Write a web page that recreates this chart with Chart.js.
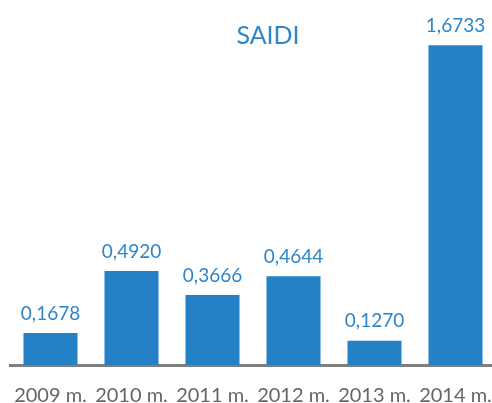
<!DOCTYPE html>
<html><head><meta charset="utf-8">
<script src="https://cdn.jsdelivr.net/npm/chart.js@4/dist/chart.umd.min.js"></script>
<style>
html,body{margin:0;padding:0;background:#fff;overflow:hidden;width:492px;height:403px;}
#wrap{width:498px;height:403px;position:relative;}
</style></head>
<body><div id="wrap"><canvas id="c" width="498" height="403"></canvas></div>
<script>
const categories = ["2009 m.", "2010 m.", "2011 m.", "2012 m.", "2013 m.", "2014 m."];
const saidiValues = [0.1678, 0.4920, 0.3666, 0.4644, 0.1270, 1.6733];
const valueLabels = ["0,1678", "0,4920", "0,3666", "0,4644", "0,1270", "1,6733"];
const chartTitle = "SAIDI";

const BLUE = "#2581C6";
const LABEL_BLUE = "#2E86C8";
const FONT = "Lato, 'Open Sans', sans-serif";

const overlay = {
  id: "overlay",
  afterDatasetsDraw(chart) {
    const ctx = chart.ctx;
    const meta = chart.getDatasetMeta(0);
    ctx.save();
    ctx.fillStyle = LABEL_BLUE;
    ctx.font = "19px " + FONT;
    ctx.textAlign = "center";
    ctx.textBaseline = "bottom";
    meta.data.forEach((bar, i) => {
      ctx.fillText(valueLabels[i], bar.x, bar.y - 10);
    });
    ctx.font = "25px " + FONT;
    ctx.textBaseline = "middle";
    ctx.fillText(chartTitle, 268, 36);
    ctx.restore();
  }
};

new Chart(document.getElementById("c"), {
  type: "bar",
  data: {
    labels: categories,
    datasets: [{
      data: saidiValues,
      backgroundColor: BLUE,
      borderWidth: 0,
      barPercentage: 0.667,
      categoryPercentage: 1.0
    }]
  },
  options: {
    responsive: false,
    animation: false,
    devicePixelRatio: 1,
    layout: { padding: { left: 10, right: 2, top: 21, bottom: 0 } },
    plugins: { legend: { display: false }, title: { display: false }, tooltip: { enabled: false } },
    scales: {
      x: {
        grid: { display: false, drawTicks: false },
        border: { display: true, color: "#7F7F7F", width: 3 },
        ticks: { color: "#666666", font: { family: FONT, size: 20 }, padding: 19, maxRotation: 0, autoSkip: false },
        afterFit(scale) {
          scale.height = 38;
          scale.paddingLeft = 0;
          scale.paddingRight = 0;
        }
      },
      y: {
        display: false,
        min: 0,
        max: 1.8
      }
    }
  },
  plugins: [overlay]
});
</script>
</body></html>
